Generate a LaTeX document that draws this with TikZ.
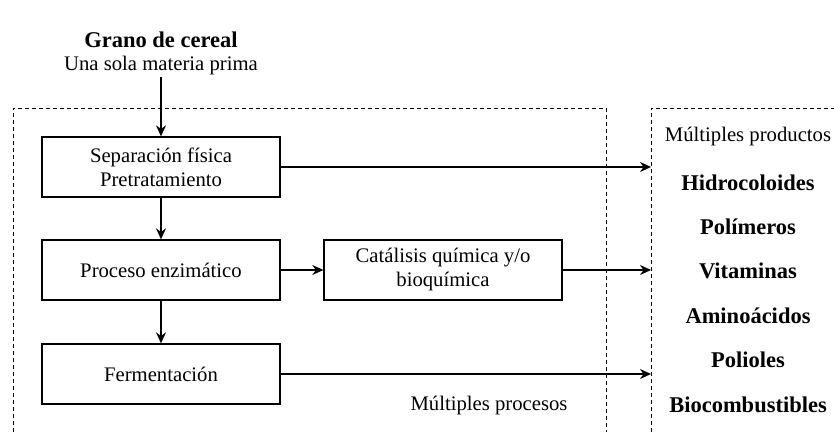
\documentclass[tikz,border=0pt]{standalone}
\usepackage{fontspec}
\setmainfont{Liberation Serif}
\usetikzlibrary{arrows.meta}
\begin{document}
\begin{tikzpicture}[x=1pt,y=-1pt,
  txt/.style={font=\fontsize{20.7}{24}\selectfont, inner sep=0pt, align=center},
  btxt/.style={font=\fontsize{22.5}{26}\selectfont\bfseries, inner sep=0pt, align=center},
  procbox/.style={draw, line width=1.3pt, minimum width=238pt, minimum height=60pt,
    inner sep=0pt, align=center, font=\fontsize{20.7}{24}\selectfont},
  region/.style={draw, dashed, dash pattern=on 4pt off 3pt, line width=1pt},
  flow/.style={line width=1.3pt, -{Stealth[length=11pt,width=10pt]}}]
\useasboundingbox (0,0) rectangle (834,431);
% dashed regions
\draw[region] (13,460) -- (13,108) -- (606,108) -- (606,460);
\draw[region] (651,460) -- (651,108) -- (850,108);
% raw material
\node[btxt] (grano) at (161,40) {Grano de cereal};
\node[txt] (prima) at (161,66) {Una sola materia prima};
% process boxes
\node[procbox] (sep) at (161,167) {Separación física\\Pretratamiento};
\node[procbox] (enz) at (161,270) {Proceso enzimático};
\node[procbox] (fer) at (161,374) {Fermentación};
\node[procbox] (cat) at (443,270) {Catálisis química y/o\\bioquímica};
\node[txt] (procs) at (489,405) {Múltiples procesos};
% products
\node[txt] (prods) at (748,137) {Múltiples productos};
\node[btxt] (p1) at (748,183) {Hidrocoloides};
\node[btxt] (p2) at (748,227) {Polímeros};
\node[btxt] (p3) at (748,271) {Vitaminas};
\node[btxt] (p4) at (748,316) {Aminoácidos};
\node[btxt] (p5) at (748,360) {Polioles};
\node[btxt] (p6) at (748,405) {Biocombustibles};
% coordinates at the products region edge
\coordinate (e1) at (651,167);
\coordinate (e2) at (651,270);
\coordinate (e3) at (651,374);
% connectors
\draw[flow] (prima.south |- 0,77) -- (sep.north);
\draw[flow] (sep) -- (enz);
\draw[flow] (enz) -- (fer);
\draw[flow] (enz) -- (cat);
\draw[flow] (sep.east) -- (e1);
\draw[flow] (cat.east) -- (e2);
\draw[flow] (fer.east) -- (e3);
\end{tikzpicture}
\end{document}
